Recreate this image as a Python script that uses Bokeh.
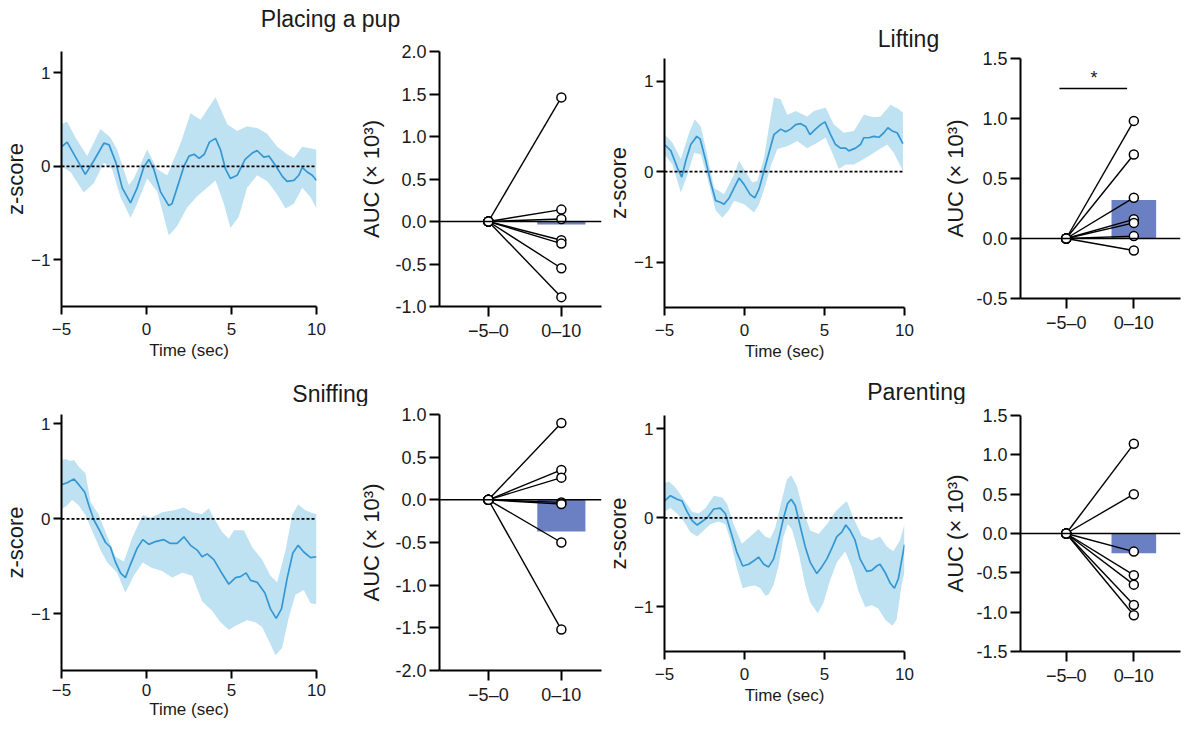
from bokeh.plotting import figure
from bokeh.layouts import row, column
from bokeh.models import Range1d, FixedTicker, Span, NumeralTickFormatter
from bokeh.embed import file_html
from bokeh.resources import INLINE
from bokeh.core.properties import value

FONT = "Liberation Sans"
LINE_C = "#3497d3"
BAND_C = "#bfe2f3"
BAR_C = "#6b80c2"
TXT_C = "#1a1a1a"

# ---------------- data ----------------
titles = ["Placing a pup", "Lifting", "Sniffing", "Parenting"]
categories = ["\u22125\u20130", "0\u201310"]

# Placing a pup : z-score trace
place_t = [-5.0, -4.67, -4.08, -3.6, -3.1, -2.5, -2.2, -1.8, -1.43, -0.94, -0.55, -0.16, 0.14, 0.43, 0.82,
           1.31, 1.5, 1.8, 2.2, 2.5, 2.8, 3.1, 3.4, 3.7, 4.06, 4.35, 4.65, 4.94, 5.33, 5.8, 6.2, 6.5, 6.9,
           7.2, 7.6, 8.0, 8.27, 8.67, 8.96, 9.16, 9.45, 9.75, 10.0]
place_mean = [0.21, 0.26, 0.07, -0.085, 0.06, 0.25, 0.23, 0.04, -0.23, -0.39, -0.23, -0.01, 0.075, -0.03, -0.27,
              -0.42, -0.40, -0.23, 0.0, 0.11, 0.13, 0.085, 0.13, 0.26, 0.30, 0.18, -0.03, -0.13, -0.095, 0.075, 0.14,
              0.17, 0.10, 0.11, 0.007, -0.11, -0.16, -0.15, -0.095, -0.01, -0.06, -0.095, -0.15]
place_up_t = [-5.0, -4.67, -4.18, -3.49, -2.71, -2.12, -1.73, -1.04, -0.75, 0.04, 0.63, 1.22, 2.0, 2.59, 3.18,
              4.06, 4.75, 5.33, 5.92, 6.51, 7.1, 7.69, 8.27, 8.67, 9.16, 10.0]
place_up = [0.45, 0.48, 0.31, 0.11, 0.40, 0.31, 0.18, -0.20, -0.13, 0.18, -0.03, -0.095, 0.245, 0.57, 0.50,
            0.74, 0.45, 0.38, 0.43, 0.41, 0.35, 0.21, 0.13, 0.09, 0.21, 0.18]
place_lo_t = [-5.0, -4.47, -3.69, -3.1, -2.51, -2.02, -1.53, -0.94, -0.55, 0.04, 0.63, 1.31, 1.8, 2.39, 2.98,
              3.57, 4.06, 4.55, 4.94, 5.43, 5.92, 6.51, 7.1, 7.69, 8.18, 8.67, 9.16, 9.65, 10.0]
place_lo = [0.0, -0.06, -0.28, -0.18, 0.04, -0.03, -0.33, -0.55, -0.40, -0.13, -0.27, -0.74, -0.64, -0.44, -0.32,
            -0.23, -0.15, -0.40, -0.66, -0.54, -0.23, -0.095, -0.16, -0.30, -0.45, -0.40, -0.23, -0.33, -0.45]

# Lifting : z-score trace
lift_t = [-5.0, -4.6, -4.19, -3.92, -3.67, -3.36, -2.98, -2.77, -2.42, -2.11, -1.8, -1.48, -1.28, -0.96, -0.65,
          -0.34, -0.03, 0.35, 0.64, 0.91, 1.22, 1.53, 1.84, 2.26, 2.57, 2.88, 3.2, 3.51, 3.82, 4.09, 4.44, 4.76,
          5.03, 5.38, 5.69, 6.0, 6.32, 6.52, 6.94, 7.25, 7.46, 7.77, 8.09, 8.4, 8.71, 8.96, 9.23, 9.54, 9.9]
lift_mean = [0.30, 0.23, 0.04, -0.06, 0.12, 0.30, 0.39, 0.36, 0.12, -0.12, -0.32, -0.34, -0.36, -0.29, -0.18,
             -0.07, -0.14, -0.25, -0.29, -0.19, 0.01, 0.21, 0.41, 0.47, 0.44, 0.47, 0.52, 0.53, 0.50, 0.41, 0.47,
             0.52, 0.55, 0.41, 0.30, 0.26, 0.26, 0.23, 0.26, 0.30, 0.375, 0.375, 0.39, 0.38, 0.43, 0.485, 0.45,
             0.43, 0.31]
lift_up_t = [-5.0, -4.5, -3.98, -3.46, -3.11, -2.73, -2.42, -1.9, -1.28, -0.65, -0.34, -0.03, 0.49, 0.8, 1.22,
             1.53, 1.84, 2.26, 2.68, 3.2, 3.92, 4.34, 5.07, 5.59, 6.21, 6.84, 7.46, 8.09, 8.5, 9.13, 9.65, 9.9]
lift_up = [0.41, 0.32, 0.14, 0.43, 0.58, 0.50, 0.26, -0.18, -0.25, -0.03, 0.12, 0.03, -0.12, -0.10, 0.15,
           0.50, 0.82, 0.80, 0.63, 0.67, 0.61, 0.67, 0.71, 0.52, 0.43, 0.45, 0.63, 0.60, 0.61, 0.74, 0.69, 0.65]
lift_lo_t = [-5.0, -4.5, -3.98, -3.56, -3.15, -2.73, -2.32, -1.8, -1.38, -0.96, -0.65, -0.03, 0.6, 0.91, 1.33,
             1.64, 2.05, 2.68, 3.3, 3.92, 4.55, 5.07, 5.48, 5.9, 6.32, 6.84, 7.46, 8.29, 8.92, 9.33, 9.9]
lift_lo = [0.19, 0.08, -0.23, -0.03, 0.21, 0.19, -0.07, -0.43, -0.51, -0.42, -0.32, -0.36, -0.45, -0.36, -0.14,
           0.06, 0.25, 0.28, 0.34, 0.26, 0.32, 0.375, 0.21, 0.03, 0.08, 0.08, 0.14, 0.23, 0.30, 0.21, 0.01]

# Sniffing : z-score trace
sniff_t = [-5.0, -4.67, -4.27, -3.98, -3.63, -3.39, -3.1, -2.8, -2.41, -2.12, -1.82, -1.53, -1.24, -0.94, -0.55,
           -0.22, 0.14, 0.53, 1.02, 1.41, 1.8, 2.2, 2.59, 2.98, 3.27, 3.57, 3.96, 4.35, 4.84, 5.24, 5.53, 5.86,
           6.12, 6.51, 6.96, 7.29, 7.63, 7.94, 8.27, 8.61, 8.92, 9.25, 9.65, 10.0]
sniff_mean = [0.36, 0.38, 0.42, 0.36, 0.28, 0.14, -0.01, -0.11, -0.25, -0.30, -0.46, -0.57, -0.62, -0.48, -0.31,
              -0.22, -0.27, -0.24, -0.22, -0.26, -0.26, -0.19, -0.28, -0.33, -0.40, -0.37, -0.43, -0.55, -0.69,
              -0.62, -0.61, -0.57, -0.65, -0.67, -0.78, -0.95, -1.05, -0.95, -0.63, -0.36, -0.28, -0.35, -0.41,
              -0.40]
sniff_up_t = [-5.0, -4.76, -4.47, -4.27, -3.98, -3.59, -3.29, -2.8, -2.41, -1.82, -1.33, -0.84, -0.22, 0.24, 0.92,
              1.61, 2.2, 2.69, 3.27, 3.67, 3.96, 4.45, 4.84, 5.14, 5.73, 6.22, 6.8, 7.29, 7.69, 8.18, 8.57, 8.92,
              9.35, 9.75, 10.0]
sniff_up = [0.62, 0.63, 0.61, 0.62, 0.55, 0.48, 0.18, 0.04, -0.14, -0.40, -0.45, -0.20, 0.04, 0.01, 0.07,
            0.09, 0.12, 0.07, 0.05, 0.11, 0.01, -0.14, -0.21, -0.12, -0.12, -0.30, -0.43, -0.60, -0.67, -0.33,
            0.04, 0.15, 0.09, 0.06, 0.05]
sniff_lo_t = [-5.0, -4.67, -4.37, -3.98, -3.59, -3.2, -2.71, -2.31, -1.73, -1.24, -0.75, -0.22, 0.33, 0.92, 1.51,
              2.1, 2.69, 3.27, 3.86, 4.35, 4.84, 5.33, 5.92, 6.41, 6.8, 7.2, 7.59, 7.98, 8.37, 8.76, 9.25, 9.65,
              10.0]
sniff_lo = [0.10, 0.14, 0.20, 0.14, 0.04, -0.13, -0.33, -0.46, -0.57, -0.78, -0.60, -0.46, -0.52, -0.55, -0.62,
            -0.57, -0.60, -0.87, -0.97, -1.09, -1.17, -1.12, -1.07, -1.09, -1.14, -1.29, -1.44, -1.36, -1.04,
            -0.80, -0.75, -0.89, -0.90]

# Parenting : z-score trace
parent_t = [-5.0, -4.63, -4.21, -3.9, -3.59, -3.27, -2.96, -2.65, -2.34, -1.92, -1.51, -1.2, -0.88, -0.47, -0.11,
            0.26, 0.63, 0.88, 1.2, 1.51, 1.82, 2.13, 2.44, 2.69, 2.92, 3.17, 3.48, 3.79, 4.11, 4.52, 4.83, 5.15,
            5.46, 5.77, 6.08, 6.33, 6.6, 6.91, 7.22, 7.64, 7.95, 8.26, 8.47, 8.78, 9.1, 9.37, 9.62, 10.0]
parent_mean = [0.19, 0.25, 0.21, 0.19, 0.07, -0.03, -0.08, -0.04, 0.0, 0.10, 0.11, 0.05, -0.14, -0.39, -0.54,
               -0.52, -0.475, -0.44, -0.52, -0.55, -0.46, -0.25, 0.0, 0.16, 0.21, 0.14, -0.09, -0.32, -0.50,
               -0.625, -0.55, -0.46, -0.34, -0.21, -0.16, -0.08, -0.14, -0.25, -0.46, -0.60, -0.59, -0.54, -0.52,
               -0.61, -0.73, -0.79, -0.68, -0.30]
parent_up_t = [-5.0, -4.73, -4.42, -4.11, -3.69, -3.27, -2.86, -2.44, -1.92, -1.4, -1.09, -0.68, -0.16, 0.36,
               0.88, 1.3, 1.61, 1.92, 2.3, 2.65, 2.92, 3.27, 3.69, 4.11, 4.63, 5.15, 5.67, 6.08, 6.39, 6.81, 7.33,
               7.95, 8.47, 8.89, 9.3, 9.72, 10.0]
parent_up = [0.39, 0.41, 0.36, 0.29, 0.18, 0.07, 0.05, 0.11, 0.25, 0.23, 0.16, -0.07, -0.29, -0.21, -0.125,
             -0.21, -0.23, -0.11, 0.18, 0.43, 0.48, 0.36, 0.07, -0.14, -0.18, -0.07, 0.07, 0.14, 0.19, 0.0, -0.20,
             -0.25, -0.21, -0.32, -0.375, -0.25, -0.07]
parent_lo_t = [-5.0, -4.63, -4.21, -3.79, -3.38, -2.96, -2.55, -2.13, -1.61, -1.2, -0.88, -0.47, -0.11, 0.26,
               0.67, 0.99, 1.3, 1.51, 1.82, 2.13, 2.44, 2.71, 2.96, 3.38, 3.79, 4.11, 4.58, 4.94, 5.35, 5.77, 6.29,
               6.7, 7.12, 7.54, 7.95, 8.37, 8.78, 9.24, 9.51, 9.82, 10.0]
parent_lo = [0.07, 0.11, 0.05, -0.04, -0.16, -0.21, -0.14, -0.07, -0.04, -0.07, -0.25, -0.57, -0.79, -0.77,
             -0.76, -0.79, -0.875, -0.86, -0.75, -0.54, -0.21, -0.07, -0.125, -0.39, -0.75, -0.95, -1.07, -0.95,
             -0.70, -0.50, -0.375, -0.55, -0.82, -1.0, -0.98, -1.02, -1.14, -1.21, -1.14, -0.75, -0.61]

# AUC (x 10^3) per animal: window -5-0 and 0-10, and bar (group value)
place_pre = [0.0, 0.0, 0.0, 0.0, 0.0, 0.0, 0.0]
place_post = [1.46, 0.14, 0.03, -0.22, -0.26, -0.55, -0.89]
place_bar = -0.035
lift_pre = [0.0, 0.0, 0.0, 0.0, 0.0, 0.0, 0.0]
lift_post = [0.98, 0.70, 0.34, 0.16, 0.13, 0.02, -0.10]
lift_bar = 0.32
lift_sig_y = 1.25
sniff_pre = [0.0, 0.0, 0.0, 0.0, 0.0, 0.0, 0.0]
sniff_post = [0.90, 0.35, 0.26, -0.03, -0.05, -0.50, -1.52]
sniff_bar = -0.37
parent_pre = [0.0, 0.0, 0.0, 0.0, 0.0, 0.0, 0.0]
parent_post = [1.14, 0.50, -0.23, -0.53, -0.65, -0.91, -1.04]
parent_bar = -0.25


# ---------------- helpers ----------------
def style_axes(p, tick_len):
    for ax in (p.xaxis[0], p.yaxis[0]):
        ax.axis_line_width = 2
        ax.axis_line_color = "black"
        ax.major_tick_line_width = 2
        ax.major_tick_line_color = "black"
        ax.major_tick_in = 0
        ax.major_tick_out = tick_len
        ax.minor_tick_line_color = None
        ax.major_label_text_font = FONT
        ax.major_label_text_color = TXT_C
        ax.axis_label_text_font = FONT
        ax.axis_label_text_font_style = "normal"
        ax.axis_label_text_color = TXT_C
    p.grid.visible = False
    p.outline_line_color = None


def trace_panel(w, h, mb, yr, t, mean, ut, up, lt, lo, tick_standoff=8, xlab_standoff=3):
    p = figure(width=w, height=h, x_range=Range1d(-5, 10), y_range=Range1d(*yr),
               toolbar_location=None, output_backend="svg",
               min_border_left=mb[0], min_border_right=mb[1], min_border_top=mb[2], min_border_bottom=mb[3])
    p.patch(list(ut) + list(reversed(lt)), list(up) + list(reversed(lo)),
            fill_color=BAND_C, line_color=None)
    p.line(t, mean, line_color=LINE_C, line_width=1.7)
    p.add_layout(Span(location=0, dimension="width", line_color="black", line_width=1.8, line_dash="3 2"))
    style_axes(p, 8)
    p.xaxis.ticker = FixedTicker(ticks=[-5, 0, 5, 10])
    p.xaxis.major_label_overrides = {-5: "\u22125", 0: "0", 5: "5", 10: "10"}
    p.yaxis.ticker = FixedTicker(ticks=[-1, 0, 1])
    p.yaxis.major_label_overrides = {-1: "\u22121", 0: "0", 1: "1"}
    p.xaxis.axis_label = "Time (sec)"
    p.yaxis.axis_label = "z-score"
    p.xaxis.major_label_text_font_size = "17px"
    p.yaxis.major_label_text_font_size = "17px"
    p.xaxis.axis_label_text_font_size = "17px"
    p.yaxis.axis_label_text_font_size = "22px"
    p.xaxis.major_label_standoff = tick_standoff
    p.yaxis.major_label_standoff = 3
    p.xaxis.axis_label_standoff = xlab_standoff
    p.yaxis.axis_label_standoff = 0
    return p


def auc_panel(w, h, mb, yr, xr, pre, post, bar, yticks, ylab_standoff=8):
    p = figure(width=w, height=h, x_range=Range1d(*xr), y_range=Range1d(*yr),
               toolbar_location=None, output_backend="svg",
               min_border_left=mb[0], min_border_right=mb[1], min_border_top=mb[2], min_border_bottom=mb[3])
    xpos = [i + 1 for i in range(len(categories))]
    p.vbar(x=[xpos[1]], top=[bar], bottom=[0], width=0.66, fill_color=BAR_C, line_color=None)
    p.add_layout(Span(location=0, dimension="width", line_color="black", line_width=1.5, level="glyph"))
    x0 = [xpos[0]] * len(pre)
    x1 = [xpos[1]] * len(post)
    p.segment(x0=x0, y0=pre, x1=x1, y1=post, line_color="black", line_width=1.4)
    p.scatter(x0 + x1, list(pre) + list(post), size=9, fill_color="white", line_color="black", line_width=1.5)
    style_axes(p, 10)
    p.xaxis.ticker = FixedTicker(ticks=xpos)
    p.xaxis.major_label_overrides = {xpos[0]: categories[0], xpos[1]: categories[1]}
    p.yaxis.ticker = FixedTicker(ticks=yticks)
    p.yaxis.formatter = NumeralTickFormatter(format="0.0")
    p.yaxis.axis_label = "AUC (\u00d7 10\u00b3)"
    p.xaxis.major_label_text_font_size = "18px"
    p.yaxis.major_label_text_font_size = "18px"
    p.yaxis.axis_label_text_font_size = "22px"
    p.xaxis.major_label_standoff = 4
    p.yaxis.major_label_standoff = 3
    p.yaxis.axis_label_standoff = ylab_standoff
    return p


def title_strip(w, h, cx, cy, text):
    s = figure(width=w, height=h, x_range=Range1d(0, w), y_range=Range1d(0, h), title=None,
               toolbar_location=None, output_backend="svg", min_border=0,
               x_axis_location=None, y_axis_location=None)
    s.grid.visible = False
    s.outline_line_color = None
    s.text(x=[cx], y=[cy], text=[text], text_font=value(FONT), text_font_size="23px",
           text_color=TXT_C, text_align="center", text_baseline="middle")
    return s


# ---------------- panels ----------------
# row 1 (page y 0..378)
p1 = trace_panel(338, 338, (61, 22, 4, 68), (-1.5, 1.23), place_t, place_mean, place_up_t, place_up, place_lo_t, place_lo)
p2 = auc_panel(265, 338, (101, 2, 11, 72), (-1.0, 2.0), (0.33, 2.55), place_pre, place_post, place_bar,
               [-1.0, -0.5, 0.0, 0.5, 1.0, 1.5, 2.0])
p3 = trace_panel(337, 326, (61, 36, 6, 71), (-1.5, 1.25), lift_t, lift_mean, lift_up_t, lift_up, lift_lo_t, lift_lo)
p4 = auc_panel(246, 378, (79, 6, 58, 80), (-0.5, 1.5), (0.324, 2.69), lift_pre, lift_post, lift_bar,
               [-0.5, 0.0, 0.5, 1.0, 1.5], ylab_standoff=5)
xp = [1, 2]
p4.line(x=[xp[0] - 0.1, xp[1] - 0.1], y=[lift_sig_y, lift_sig_y], line_color="black", line_width=1.5)
p4.text(x=[(xp[0] + xp[1]) / 2 - 0.09], y=[lift_sig_y + 0.09], text=["*"], text_font=value(FONT),
        text_font_size="18px", text_color=TXT_C, text_align="center", text_baseline="middle")

# row 2 (page y 378..735)
p5 = trace_panel(338, 329, (61, 22, 0, 63), (-1.6, 1.1), sniff_t, sniff_mean, sniff_up_t, sniff_up, sniff_lo_t, sniff_lo,
                 tick_standoff=5, xlab_standoff=1)
p6 = auc_panel(265, 329, (101, 2, 8, 65), (-2.0, 1.0), (0.33, 2.55), sniff_pre, sniff_post, sniff_bar,
               [-2.0, -1.5, -1.0, -0.5, 0.0, 0.5, 1.0])
p7 = trace_panel(337, 331, (61, 36, 5, 77), (-1.5, 1.15), parent_t, parent_mean, parent_up_t, parent_up, parent_lo_t, parent_lo)
p8 = auc_panel(246, 331, (79, 6, 11, 84), (-1.5, 1.5), (0.324, 2.69), parent_pre, parent_post, parent_bar,
               [-1.5, -1.0, -0.5, 0.0, 0.5, 1.0, 1.5], ylab_standoff=5)

s1 = title_strip(603, 40, 330, 22, titles[0])
s2 = title_strip(337, 52, 305, 14, titles[1])
s3 = title_strip(603, 28, 330, 13, titles[2])
s4 = title_strip(583, 26, 313, 13, titles[3])

layout = column(
    row(column(s1, row(p1, p2)), row(column(row(s2), p3), p4)),
    row(column(s3, row(p5, p6)), column(s4, row(p7, p8))),
)

open("out.html", "w").write(file_html(layout, INLINE))
